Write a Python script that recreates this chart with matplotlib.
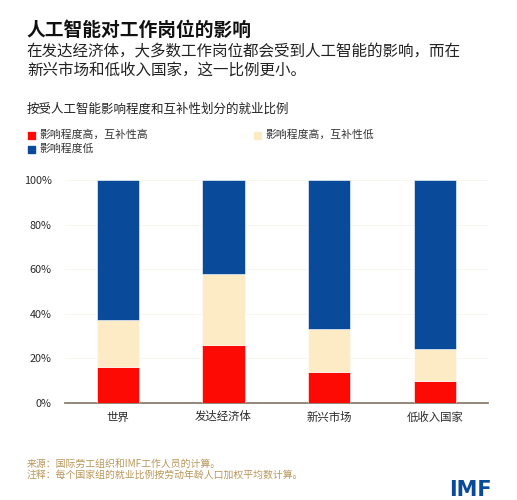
import matplotlib
matplotlib.use("Agg")
import matplotlib.pyplot as plt
import numpy as np

plt.rcParams['font.family'] = ['Noto Sans CJK SC', 'DejaVu Sans']

categories = ["世界", "发达经济体", "新兴市场", "低收入国家"]
high_exp_high_comp = [16, 26, 14, 10]
high_exp_low_comp = [21, 32, 19, 14]
low_exp = [63, 42, 67, 76]
series_names = ["影响程度高，互补性高", "影响程度高，互补性低", "影响程度低"]
yticks = [0, 20, 40, 60, 80, 100]
ytick_labels = ["0%", "20%", "40%", "60%", "80%", "100%"]

c_red = "#fe0a05"
c_beige = "#fdebc5"
c_blue = "#0a4a9a"
text_dark = "#2a2a2a"
footer_col = "#b8975a"

fig = plt.figure(figsize=(5.17, 5.0), dpi=100)
ax = fig.add_axes([0.1257, 0.194, 0.818, 0.446])

x = np.arange(len(categories))
w = 0.40
s1 = np.array(high_exp_high_comp)
s2 = np.array(high_exp_low_comp)
s3 = np.array(low_exp)
ax.bar(x, s1, w, color=c_red, edgecolor="white", linewidth=0.4, zorder=3)
ax.bar(x, s2, w, bottom=s1, color=c_beige, edgecolor="white", linewidth=0.4, zorder=3)
ax.bar(x, s3, w, bottom=s1 + s2, color=c_blue, edgecolor="white", linewidth=0.4, zorder=3)

ax.set_xlim(-0.5, 3.5)
ax.set_ylim(0, 100)
ax.set_yticks(yticks)
ax.set_yticklabels(ytick_labels)
ax.set_xticks(x)
ax.set_xticklabels(categories)
ax.tick_params(axis='both', length=0, colors=text_dark)
ax.tick_params(axis='y', pad=9.5, labelsize=7.8)
ax.tick_params(axis='x', pad=6, labelsize=8.2)
for sp in ["top", "right", "left"]:
    ax.spines[sp].set_visible(False)
ax.spines["bottom"].set_color("#8a7e70")
ax.spines["bottom"].set_linewidth(1.3)
ax.grid(axis='y', color="#f9f5ec", linewidth=0.6, zorder=0)
ax.set_axisbelow(True)

# Titles
fig.text(0.052, 0.940, "人工智能对工作岗位的影响", fontsize=13.5, fontweight='bold',
         color="#111111", va='center', ha='left')
fig.text(0.052, 0.897, "在发达经济体，大多数工作岗位都会受到人工智能的影响，而在",
         fontsize=11.2, color="#222222", va='center', ha='left')
fig.text(0.052, 0.860, "新兴市场和低收入国家，这一比例更小。",
         fontsize=11.2, color="#222222", va='center', ha='left')
fig.text(0.052, 0.782, "按受人工智能影响程度和互补性划分的就业比例",
         fontsize=9, color="#222222", va='center', ha='left')

# Legend
leg_items = [(0.062, 0.730, c_red, series_names[0]),
             (0.499, 0.730, c_beige, series_names[1]),
             (0.062, 0.702, c_blue, series_names[2])]
for lx, ly, col, lab in leg_items:
    fig.patches.append(matplotlib.patches.Rectangle((lx - 0.007, ly - 0.007), 0.013, 0.0135,
                       transform=fig.transFigure, color=col, figure=fig))
    fig.text(lx + 0.014, ly, lab, fontsize=7.8, color="#333333", va='center', ha='left')

# Footer
fig.text(0.052, 0.073, "来源：国际劳工组织和IMF工作人员的计算。", fontsize=7.1,
         color=footer_col, va='center', ha='left')
fig.text(0.052, 0.050, "注释：每个国家组的就业比例按劳动年龄人口加权平均数计算。", fontsize=7.1,
         color=footer_col, va='center', ha='left')
fig.text(0.952, 0.020, "IMF", fontsize=15, fontweight='bold', color="#0a4a9a",
         family=['DejaVu Sans'], va='center', ha='right')

fig.savefig("out.png", dpi=100, facecolor="white")
